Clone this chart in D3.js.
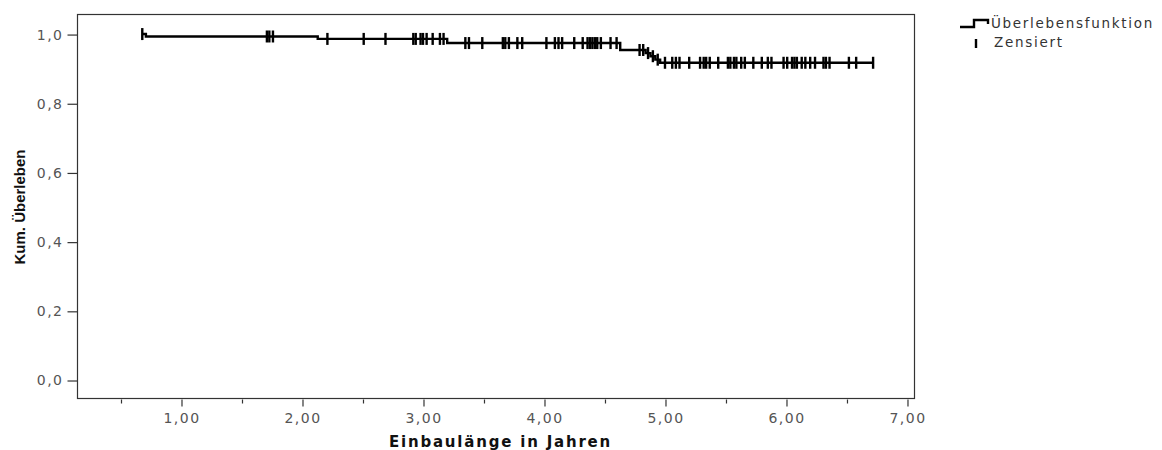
<!DOCTYPE html>
<html>
<head>
<meta charset="utf-8">
<script src="https://cdn.jsdelivr.net/npm/d3@7"></script>
<style>
  body { margin: 0; background: #fff; }
  svg text { font-family: "DejaVu Sans", "Liberation Sans", Arial, sans-serif; }
</style>
</head>
<body>
<div id="chart"></div>
<script>
// Kaplan-Meier steps (time in years, cumulative survival after that time)
var stepTimes = [0.68, 0.71, 2.13, 3.20, 4.63, 4.84, 4.88, 4.92, 4.96];
var stepSurv  = [1.000, 0.993, 0.986, 0.974, 0.954, 0.945, 0.936, 0.926, 0.917];
var endTime = 6.72;

// censored observations
var censorTimes = [0.68,
  1.71, 1.73, 1.76,
  2.21, 2.51, 2.69, 2.92, 2.94, 2.98, 3.00, 3.03, 3.08, 3.14, 3.17,
  3.35, 3.38, 3.49, 3.66, 3.68, 3.71, 3.78, 3.82, 4.02, 4.09, 4.12, 4.15,
  4.25, 4.32, 4.36, 4.38, 4.40, 4.42, 4.44, 4.47, 4.55, 4.60,
  4.79, 4.82, 4.86, 4.90, 4.94,
  5.00, 5.06, 5.09, 5.12, 5.20, 5.29, 5.32, 5.34, 5.37, 5.44, 5.52, 5.54,
  5.57, 5.59, 5.63, 5.66, 5.73, 5.80, 5.85, 5.88, 5.98, 6.01, 6.05, 6.07,
  6.09, 6.13, 6.16, 6.20, 6.24, 6.31, 6.33, 6.36, 6.52, 6.58, 6.72];

var xMajor = [1, 2, 3, 4, 5, 6, 7];
var xMinor = [0.5, 1.5, 2.5, 3.5, 4.5, 5.5, 6.5];
var yTicks = [0, 0.2, 0.4, 0.6, 0.8, 1.0];

const width = 1162, height = 450;
const mLeft = 77, mRight = 914, mTop = 14, mBottom = 398;
const comma = s => s.replace(".", ",");

const x = d3.scaleLinear().domain([0.1405, 7.058]).range([mLeft, mRight]);
const y = d3.scaleLinear().domain([-0.052, 1.058]).range([mBottom, mTop]);

const svg = d3.select("#chart").append("svg")
  .attr("width", width).attr("height", height);

// frame
svg.append("rect")
  .attr("x", mLeft + 0.5).attr("y", mTop + 0.5)
  .attr("width", mRight - mLeft).attr("height", mBottom - mTop)
  .attr("fill", "none").attr("stroke", "#333").attr("stroke-width", 1.2);

// x axis
svg.append("g").attr("transform", `translate(0.5,${mBottom + 1.5})`)
  .call(d3.axisBottom(x).tickValues(xMajor).tickSize(7).tickPadding(7)
    .tickFormat(d => comma(d3.format(".2f")(d))));
svg.append("g").attr("transform", `translate(0.5,${mBottom + 1.5})`)
  .call(d3.axisBottom(x).tickValues(xMinor).tickSize(4).tickFormat(""));

// y axis
svg.append("g").attr("transform", `translate(${mLeft + 0.5},0.5)`)
  .call(d3.axisLeft(y).tickValues(yTicks).tickSize(10).tickPadding(4)
    .tickFormat(d => comma(d3.format(".1f")(d))));

svg.selectAll(".domain").remove();
svg.selectAll(".tick line").attr("stroke", "#333").attr("stroke-width", 1.2);
svg.selectAll(".tick text").attr("fill", "#555")
  .style("font-family", "'DejaVu Sans', sans-serif")
  .style("font-size", "14px").style("letter-spacing", "1.5px");

// survival step curve
function survAt(t) {
  var s = stepSurv[0];
  for (var i = 0; i < stepTimes.length; i++) if (stepTimes[i] <= t) s = stepSurv[i];
  return s;
}
var pts = stepTimes.map((t, i) => [t, stepSurv[i]]);
pts.push([endTime, stepSurv[stepSurv.length - 1]]);
const line = d3.line().curve(d3.curveStepAfter).x(d => x(d[0])).y(d => y(d[1]));
svg.append("path").datum(pts)
  .attr("d", line).attr("fill", "none")
  .attr("stroke", "#000").attr("stroke-width", 2.4);

svg.append("g").selectAll("line").data(censorTimes).join("line")
  .attr("x1", d => x(d)).attr("x2", d => x(d))
  .attr("y1", d => y(survAt(d)) - 6).attr("y2", d => y(survAt(d)) + 6)
  .attr("stroke", "#000").attr("stroke-width", 2.4);

// axis titles
svg.append("text")
  .attr("x", (mLeft + mRight) / 2 + 5).attr("y", 447)
  .attr("text-anchor", "middle")
  .style("font-family", "'DejaVu Sans', sans-serif")
  .style("font-size", "15px").style("font-weight", "bold")
  .style("letter-spacing", "1.8px").attr("fill", "#111")
  .text("Einbaulänge in Jahren");

svg.append("text")
  .attr("transform", `translate(25,${(mTop + mBottom) / 2 + 1}) rotate(-90)`)
  .attr("text-anchor", "middle")
  .style("font-family", "'Liberation Sans Narrow', 'Liberation Sans', sans-serif")
  .style("font-size", "15px").style("font-weight", "bold").attr("fill", "#111")
  .text("Kum. Überleben");

// legend
const lg = svg.append("g");
lg.append("path")
  .attr("d", "M960,27H974V20H988V24")
  .attr("fill", "none").attr("stroke", "#000").attr("stroke-width", 2.4);
lg.append("line").attr("x1", 976).attr("x2", 976).attr("y1", 39).attr("y2", 48)
  .attr("stroke", "#000").attr("stroke-width", 2.4);
lg.append("text").attr("x", 991).attr("y", 28)
  .style("font-size", "13.5px").style("letter-spacing", "1.7px").attr("fill", "#333")
  .text("Überlebensfunktion");
lg.append("text").attr("x", 994).attr("y", 47)
  .style("font-size", "13.5px").style("letter-spacing", "1.7px").attr("fill", "#333")
  .text("Zensiert");
</script>
</body>
</html>
